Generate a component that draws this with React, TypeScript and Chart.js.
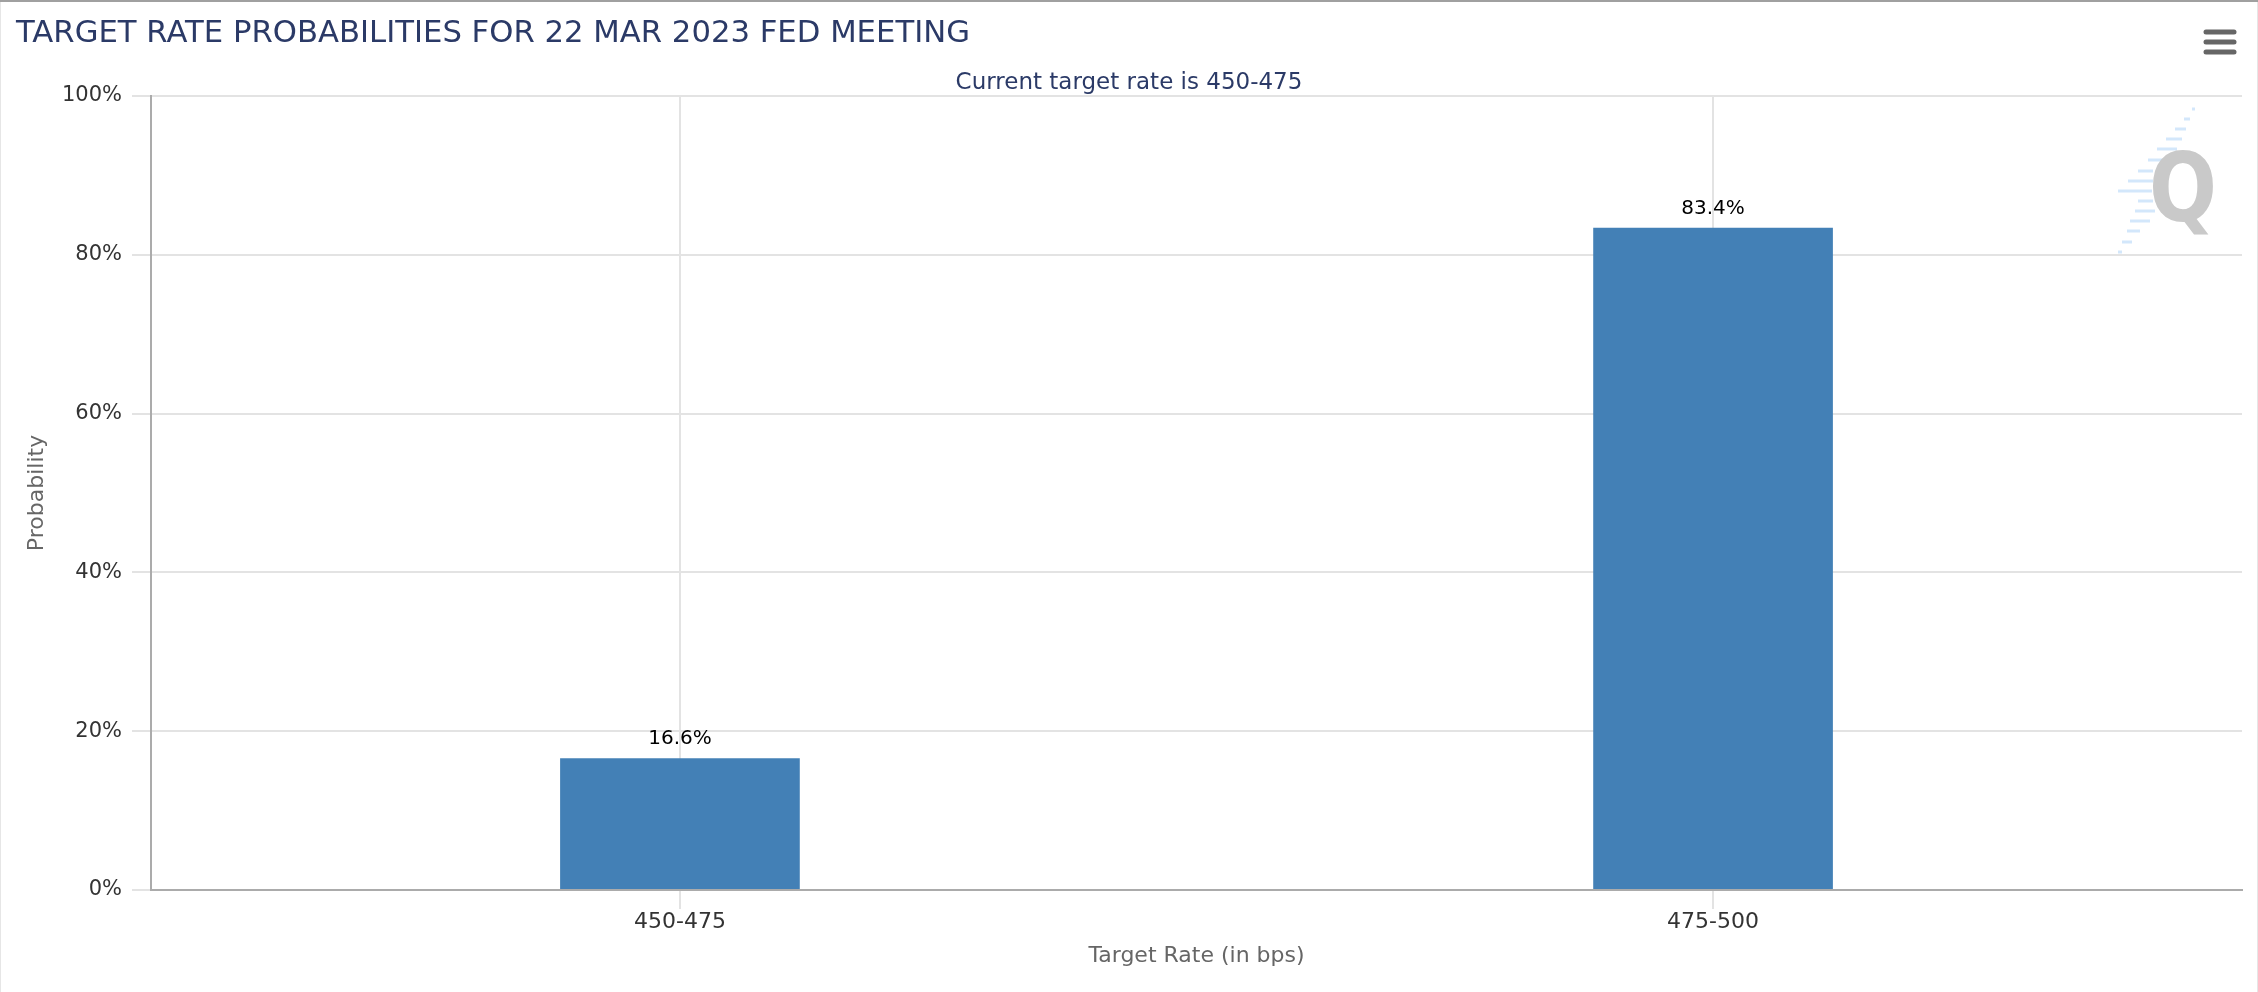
import React, { useEffect, useRef } from "react";
import { Chart, registerables } from "chart.js";

Chart.register(...registerables);

// ---- data ----
const categories: string[] = ["450-475", "475-500"];
const probabilities: number[] = [16.6, 83.4];
const yTicks: number[] = [0, 20, 40, 60, 80, 100];

const TITLE = "TARGET RATE PROBABILITIES FOR 22 MAR 2023 FED MEETING";
const SUBTITLE = "Current target rate is 450-475";
const X_TITLE = "Target Rate (in bps)";
const Y_TITLE = "Probability";

// ---- styles ----
const W = 2258;
const H = 992;
const FONT = "'DejaVu Sans', sans-serif";
const NAVY = "#2b3a67";
const BAR = "#4380b6";
const GRID = "#e3e3e3";
const AXIS = "#ababab";
const X_PAD = 0.012;

// watermark dash pattern (decoration): [dx1, dx2, dy] relative to plot top-right
const LOGO_DASHES: number[][] = [
  [-50, -47, 13], [-58, -52, 23], [-67, -56, 33], [-76, -60, 43], [-85, -65, 53],
  [-94, -79, 64], [-104, -89, 75], [-114, -89, 85], [-124, -90, 95], [-104, -89, 105],
  [-107, -87, 115], [-112, -92, 125], [-115, -102, 135], [-120, -110, 146], [-124, -120, 156],
];

const decorPlugin = {
  id: "decor",
  beforeDraw(chart: any) {
    const { ctx, chartArea } = chart;
    ctx.save();
    // frame
    ctx.fillStyle = "#ffffff";
    ctx.fillRect(0, 0, W, H);
    ctx.fillStyle = "#a0a0a0";
    ctx.fillRect(0, 0, W, 2);
    ctx.fillStyle = "#e6e6e6";
    ctx.fillRect(0, 2, 1, H);
    ctx.fillRect(W - 1, 2, 1, H);
    // title + subtitle
    ctx.fillStyle = NAVY;
    ctx.textBaseline = "alphabetic";
    ctx.textAlign = "left";
    ctx.font = `30.7px ${FONT}`;
    ctx.fillText(TITLE, 16, 42);
    ctx.textAlign = "center";
    ctx.font = `23px ${FONT}`;
    ctx.fillText(SUBTITLE, W / 2, 89);
    // menu icon
    ctx.strokeStyle = "#666666";
    ctx.lineWidth = 5;
    ctx.lineCap = "round";
    [32, 42, 52].forEach((y) => {
      ctx.beginPath();
      ctx.moveTo(2206, y);
      ctx.lineTo(2234, y);
      ctx.stroke();
    });
    // watermark logo
    const rx = chartArea.right;
    const ty = chartArea.top;
    ctx.strokeStyle = "#d3e7fb";
    ctx.lineWidth = 3;
    ctx.lineCap = "butt";
    LOGO_DASHES.forEach(([a, b, dy]) => {
      ctx.beginPath();
      ctx.moveTo(rx + a, ty + dy);
      ctx.lineTo(rx + b, ty + dy);
      ctx.stroke();
    });
    ctx.translate(rx - 59, ty + 125);
    ctx.scale(0.85, 1);
    ctx.fillStyle = "#c9c9c9";
    ctx.font = `bold 94px ${FONT}`;
    ctx.textAlign = "center";
    ctx.textBaseline = "alphabetic";
    ctx.fillText("Q", 0, 0);
    ctx.restore();
  },
  afterDatasetsDraw(chart: any) {
    const { ctx } = chart;
    const meta = chart.getDatasetMeta(0);
    ctx.save();
    ctx.fillStyle = "#000000";
    ctx.font = `20px ${FONT}`;
    ctx.textAlign = "center";
    ctx.textBaseline = "alphabetic";
    meta.data.forEach((el: any, i: number) => {
      ctx.fillText(probabilities[i].toFixed(1) + "%", el.x, el.y - 14);
    });
    ctx.restore();
  },
};

export default function App() {
  const ref = useRef<HTMLCanvasElement | null>(null);

  useEffect(() => {
    document.body.style.margin = "0";
    document.body.style.overflow = "hidden";
    const canvas = ref.current;
    if (!canvas) return;
    const chart = new Chart(canvas, {
      type: "bar",
      data: {
        datasets: [
          {
            label: "Probability",
            data: categories.map((_, i) => ({ x: i, y: probabilities[i] })),
            backgroundColor: BAR,
            borderWidth: 0,
            barPercentage: 0.232,
            categoryPercentage: 1,
          },
        ],
      },
      options: {
        responsive: false,
        animation: false,
        devicePixelRatio: 1,
        layout: { padding: { top: 96, right: 16, left: 0, bottom: 0 } },
        plugins: {
          legend: { display: false },
          tooltip: { enabled: false },
          title: { display: false },
        },
        scales: {
          x: {
            type: "linear",
            min: -0.5 - X_PAD,
            max: categories.length - 0.5 + X_PAD,
            offset: false,
            afterBuildTicks: (scale: any) => {
              scale.ticks = categories.map((_, i) => ({ value: i }));
            },
            afterFit: (scale: any) => {
              scale.height = 102;
            },
            ticks: {
              autoSkip: false,
              maxRotation: 0,
              padding: 0,
              color: "#333333",
              font: { family: FONT, size: 22 },
              callback: (v: any) => categories[Number(v)] ?? "",
            },
            grid: {
              offset: false,
              color: GRID,
              lineWidth: 2,
              tickLength: 19,
              drawTicks: true,
            },
            border: { color: AXIS, width: 2 },
            title: {
              display: true,
              text: X_TITLE,
              color: "#666666",
              font: { family: FONT, size: 22 },
              padding: { top: 0, bottom: 23 },
            },
          },
          y: {
            type: "linear",
            min: 0,
            max: 100,
            afterBuildTicks: (scale: any) => {
              scale.ticks = yTicks.map((v) => ({ value: v }));
            },
            afterFit: (scale: any) => {
              scale.width = 151;
            },
            ticks: {
              padding: 10,
              color: "#333333",
              font: { family: FONT, size: 21 },
              callback: (v: any) => v + "%",
            },
            grid: {
              color: GRID,
              lineWidth: 2,
              tickLength: 19,
            },
            border: { color: AXIS, width: 2 },
            title: {
              display: true,
              text: Y_TITLE,
              color: "#666666",
              font: { family: FONT, size: 22 },
              padding: { top: 24, bottom: 0 },
            },
          },
        },
      },
      plugins: [decorPlugin],
    } as any);
    return () => chart.destroy();
  }, []);

  return (
    <div style={{ width: W, height: H }}>
      <canvas ref={ref} width={W} height={H} style={{ display: "block", width: W, height: H }} />
    </div>
  );
}
